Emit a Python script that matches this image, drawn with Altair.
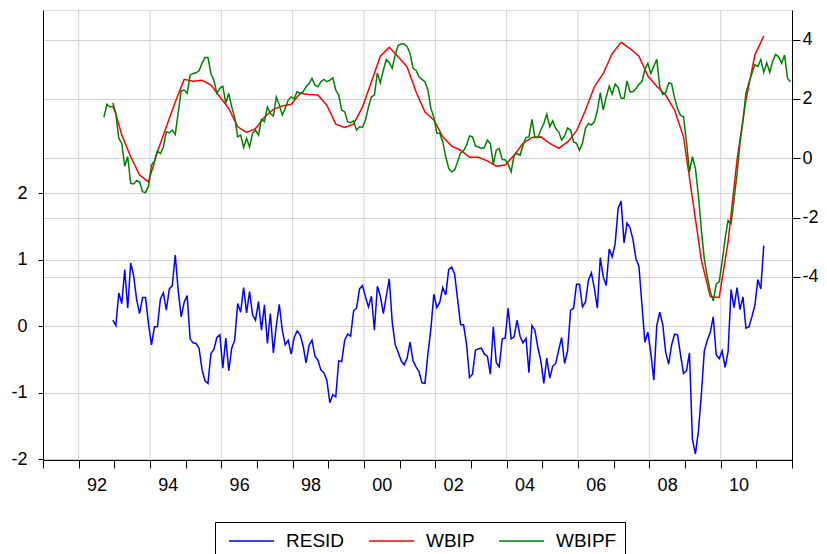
import altair as alt
import pandas as pd

# RESID, monthly from Dec 1992 (left axis)
resid = [0.09, 0.01, 0.50, 0.34, 0.85, 0.27, 0.95, 0.76, 0.40, 0.19,
         0.43, 0.43, 0.03, -0.28, -0.01, -0.01, 0.41, 0.50, 0.24, 0.56,
         0.61, 1.07, 0.53, 0.14, 0.36, 0.46, -0.19, -0.25, -0.26, -0.33,
         -0.65, -0.82, -0.86, -0.41, -0.35, -0.17, -0.13, -0.63, -0.18, -0.67,
         -0.33, -0.21, 0.34, 0.21, 0.58, 0.20, 0.52, 0.17, 0.09, 0.37,
         -0.06, 0.32, -0.26, 0.19, -0.40, 0.01, 0.33, -0.06, -0.28, -0.21,
         -0.42, -0.17, -0.07, -0.13, -0.29, -0.55, -0.29, -0.21, -0.45, -0.51,
         -0.66, -0.70, -0.81, -1.15, -1.03, -1.06, -0.52, -0.53, -0.21, -0.12,
         -0.15, 0.23, 0.27, 0.56, 0.61, 0.44, 0.29, 0.45, -0.06, 0.60,
         0.45, 0.19, 0.45, 0.71, 0.06, -0.28, -0.39, -0.52, -0.58, -0.48,
         -0.24, -0.52, -0.61, -0.68, -0.85, -0.86, -0.42, -0.04, 0.48, 0.28,
         0.36, 0.58, 0.47, 0.85, 0.89, 0.78, 0.40, 0.02, 0.02, -0.27,
         -0.77, -0.72, -0.36, -0.34, -0.33, -0.42, -0.45, -0.72, -0.01, -0.55,
         -0.61, -0.19, -0.18, 0.27, -0.19, -0.16, 0.09, -0.15, -0.25, -0.18,
         -0.70, 0.01, -0.06, -0.32, -0.52, -0.86, -0.48, -0.78, -0.60, -0.56,
         -0.36, -0.17, -0.56, -0.37, 0.24, 0.27, 0.63, 0.63, 0.29, 0.36,
         0.69, 0.80, 0.57, 0.27, 1.03,
         0.74, 0.61, 1.16, 1.04, 1.24, 1.77, 1.88, 1.25, 1.55, 1.48,
         1.30, 1.01, 0.90, 0.33, -0.24, -0.09, -0.40, -0.81, 0.01, 0.21,
         0.03, -0.39, -0.57, -0.28, -0.12, -0.13, -0.43, -0.71, -0.67, -0.40,
         -1.70, -1.92, -1.58, -1.03, -0.37, -0.21, -0.09, 0.14, -0.43, -0.49,
         -0.37, -0.62, -0.38, 0.55, 0.28, 0.58, 0.25, 0.44, -0.03, -0.01,
         0.14, 0.31, 0.70, 0.56, 1.21]

# WBIP, quarterly from Dec 1992 (right axis)
wbip = [1.87, 0.78, 0.05, -0.57, -0.80, 0.22, 1.06, 1.90, 2.66, 2.60,
        2.63, 2.47, 2.07, 1.68, 1.06, 0.87, 1.00, 1.38, 1.65, 1.76,
        1.82, 2.19, 2.15, 2.13, 1.79, 1.15, 1.04, 1.15, 1.73, 2.58,
        3.44, 3.74, 3.42, 3.08, 2.24, 1.56, 1.29, 0.72, 0.41, 0.27,
        0.03, 0.03, -0.09, -0.27, -0.23, 0.10, 0.50, 0.70, 0.72, 0.50,
        0.33, 0.55, 0.92, 1.62, 2.41, 2.86, 3.53, 3.91, 3.70, 3.44,
        2.77, 2.43, 2.13, 1.62, 0.72, -1.35, -3.44, -4.67, -4.70, -2.82,
        -0.06, 1.96, 3.48, 4.12]

# WBIPF, monthly from Sep 1992 (right axis)
wbipf = [1.38, 1.82, 1.73, 1.75, 1.51, 0.67, 0.50, -0.27, 0.05, -0.85,
         -0.87, -0.76, -0.80, -1.13, -1.16, -0.95, -0.23, -0.10, 0.25, 0.16,
         0.38, 0.89, 0.86, 0.95, 0.80, 1.56, 2.27, 2.30, 2.19, 2.80,
         2.86, 2.88, 2.95, 3.20, 3.40, 3.40, 2.86, 2.63, 2.19, 2.36,
         2.43, 1.85, 2.19, 1.73, 1.38, 0.72, 0.78, 0.36, 0.67, 0.38,
         0.84, 0.95, 0.78, 1.31, 1.23, 1.73, 1.51, 1.42, 2.07, 1.80,
         1.46, 1.68, 1.96, 2.07, 2.01, 2.24, 2.19, 2.24, 2.41, 2.52,
         2.69, 2.47, 2.41, 2.58, 2.66, 2.58, 2.63, 2.71, 2.30, 2.13,
         1.62, 1.57, 1.23, 1.20, 1.26,
         0.95, 1.06, 1.04, 1.29, 1.73, 2.07, 2.13, 2.88, 2.54, 2.97,
         3.33, 3.22, 3.03, 3.48, 3.81, 3.85, 3.85, 3.77, 3.53, 3.03,
         2.97, 2.75, 2.66, 2.58, 2.30, 1.68, 1.38, 0.84, 0.84, 0.55,
         0.05, -0.34, -0.46, -0.40, -0.12, 0.18, 0.25, 0.44, 0.75, 0.72,
         0.41, 0.38, 0.33, 0.36, 0.61, 0.50, -0.20, 0.27, 0.33, -0.04,
         -0.06, -0.20, -0.46, 0.10, 0.16, 0.10, 0.44, 0.70, 0.72, 1.31,
         0.70, 0.70, 0.95, 1.17, 1.49, 1.06, 1.26, 1.00, 0.89, 0.61,
         0.75, 1.02, 0.95, 0.55, 0.50, 0.27, 0.50, 1.00, 1.17, 1.12,
         1.23, 1.60, 2.21, 1.62,
         2.07, 2.43, 2.16, 2.50, 2.39, 2.02, 2.02, 2.61, 2.24, 2.24,
         2.34, 2.50, 2.58, 2.99, 3.20, 2.86, 3.10, 3.34, 2.41, 2.15,
         2.21, 2.54, 2.52, 2.02, 1.68, 1.44, 1.40,
         0.55, -0.46, 0.05, -0.34, -1.25, -2.40, -3.40, -4.00, -4.50, -4.81,
         -4.25, -4.17, -3.50, -2.70, -2.10, -2.21, -1.40, -0.55, 0.50, 1.25,
         2.20, 2.55, 2.86, 3.16, 3.10, 3.33, 2.90, 3.22, 2.90, 3.27,
         3.50, 3.42, 3.20, 3.48, 2.69, 2.58]

series_names = ["RESID", "WBIP", "WBIPF"]
series_colors = ["#0000ff", "#ff0000", "#008000"]
grid_years = [1992, 1994, 1996, 1998, 2000, 2002, 2004, 2006, 2008, 2010]
tick_years = list(range(1991, 2013))
left_ticks = [-2, -1, 0, 1, 2]
right_ticks = [-4, -2, 0, 2, 4]


def mid_month(start_year, start_month, n, step=1):
    out = []
    for i in range(n):
        m = start_month - 1 + i * step
        out.append(start_year + m // 12 + ((m % 12) + 0.5) / 12)
    return out


df_resid = pd.DataFrame({"t": mid_month(1992, 12, len(resid)), "value": resid, "series": "RESID"})
df_wbip = pd.DataFrame({"t": mid_month(1992, 12, len(wbip), 3), "value": wbip, "series": "WBIP"})
df_wbipf = pd.DataFrame({"t": mid_month(1992, 9, len(wbipf)), "value": wbipf, "series": "WBIPF"})
df_right = pd.concat([df_wbip, df_wbipf], ignore_index=True)
df_grid = pd.DataFrame({"year": grid_years})

FONT = "Liberation Sans"
W, H = 749, 450
GRID = "#d2d2d2"
xscale = alt.Scale(domain=[1991, 2012], nice=False, zero=False)
cscale = alt.Scale(domain=series_names, range=series_colors)

x_axis = alt.Axis(values=tick_years, grid=False, tickSize=8, tickColor="black",
                  domainColor="black", labelFontSize=18, labelColor="black",
                  labelExpr="datum.value % 2 == 0 && datum.value < 2011 ? substring(toString(datum.value), 2) : ''",
                  labelOffset=17.8, labelPadding=8, labelOverlap=False, labelFlush=False,
                  title=None)

grid = alt.Chart(df_grid).mark_rule(color=GRID, strokeWidth=1).encode(
    x=alt.X("year:Q", scale=xscale, axis=x_axis)
)

# line-shaped legend symbol: 45 px long, starting 5 px right of the entry start
legend = alt.Legend(orient="none", legendX=172, legendY=512, direction="horizontal",
                    title=None, symbolType="M-0.5,0L4,0", symbolSize=400, symbolStrokeWidth=1.5,
                    labelFontSize=19, labelColor="black", strokeColor="black", padding=8,
                    columnPadding=18, labelOffset=41)

left = alt.Chart(df_resid).mark_line(strokeWidth=1.5).encode(
    x=alt.X("t:Q", scale=xscale, axis=x_axis),
    y=alt.Y("value:Q", scale=alt.Scale(domain=[-2.01, 4.75], nice=False, zero=False),
            axis=alt.Axis(orient="left", values=left_ticks, grid=True, gridColor=GRID,
                          tickSize=5, tickColor="black", domainColor="black",
                          labelExpr="toString(datum.value)", labelFontSize=18,
                          labelColor="black", labelPadding=11, title=None)),
    color=alt.Color("series:N", scale=cscale, legend=legend),
)

right = alt.Chart(df_right).mark_line(strokeWidth=1.5).encode(
    x=alt.X("t:Q", scale=xscale, axis=x_axis),
    y=alt.Y("value:Q", scale=alt.Scale(domain=[-10.18, 5.0], nice=False, zero=False),
            axis=alt.Axis(orient="right", values=right_ticks, grid=True, gridColor=GRID,
                          tickSize=8, tickColor="black", domainColor="black",
                          labelExpr="toString(datum.value)", labelFontSize=18,
                          labelColor="black", labelPadding=2, title=None)),
    color=alt.Color("series:N", scale=cscale, legend=legend),
)

chart = alt.layer(grid, left, right).resolve_scale(y="independent").properties(
    width=W, height=H,
    autosize=alt.AutoSizeParams(type="none"),
    padding={"left": 35, "top": 2, "right": 27, "bottom": 94},
    background="white",
).configure_view(stroke="black", strokeWidth=1).configure(font=FONT)

chart.save("out.html", embed_options={"renderer": "svg", "actions": False})
